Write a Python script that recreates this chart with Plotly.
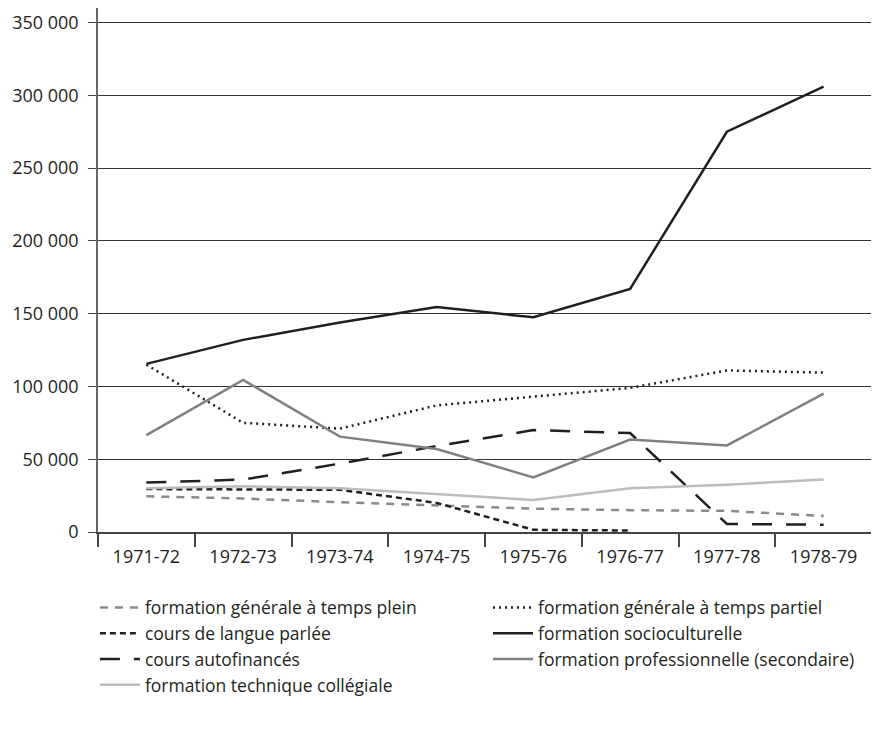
import plotly.graph_objects as go

years = ["1971-72", "1972-73", "1973-74", "1974-75", "1975-76", "1976-77", "1977-78", "1978-79"]

fg_temps_plein = [24500, 23000, 20500, 18500, 16000, 15000, 14500, 11000]
fg_temps_partiel = [115000, 75000, 71000, 87000, 93000, 99000, 111000, 109500]
langue_parlee = [29500, 29500, 29000, 20000, 1500, 1000, None, None]
socioculturelle = [115500, 132000, 144000, 154500, 147500, 167000, 275000, 306000]
autofinances = [34000, 36000, 47000, 59000, 70000, 68000, 5500, 5000]
professionnelle = [66500, 104500, 65500, 57000, 37500, 63500, 59500, 95000]
technique = [30000, 31500, 30000, 26000, 22000, 30000, 32500, 36000]

names = [
    "formation générale à temps plein",
    "formation générale à temps partiel",
    "cours de langue parlée",
    "formation socioculturelle",
    "cours autofinancés",
    "formation professionnelle (secondaire)",
    "formation technique collégiale",
]
series = [fg_temps_plein, fg_temps_partiel, langue_parlee, socioculturelle,
          autofinances, professionnelle, technique]
styles = [
    dict(color="#8a8a8a", width=2.5, dash="8px,7px"),
    dict(color="#231f20", width=2.5, dash="2px,4px"),
    dict(color="#231f20", width=2.5, dash="6px,4px"),
    dict(color="#231f20", width=2.5, dash="solid"),
    dict(color="#231f20", width=2.5, dash="20px,14px"),
    dict(color="#808080", width=2.5, dash="solid"),
    dict(color="#bdbdbd", width=2.5, dash="solid"),
]

fig = go.Figure()
for n, s, st in zip(names, series, styles):
    fig.add_trace(go.Scatter(x=years, y=s, name=n, mode="lines", line=st,
                             connectgaps=False))

font = "Open Sans"
fig.update_layout(
    width=871, height=729,
    margin=dict(l=90, r=7, t=0, b=205, autoexpand=False),
    plot_bgcolor="white", paper_bgcolor="white",
    separators=", ",
    font=dict(family=font, size=18, color="#231f20"),
    showlegend=True,
    legend=dict(
        orientation="h", x=-0.004, xanchor="left",
        y=-0.110, yanchor="top",
        entrywidth=0.455, entrywidthmode="fraction",
        font=dict(family=font, size=17.5, color="#231f20"),
        itemwidth=40,
    ),
)
fig.update_xaxes(
    type="category", range=[-0.5, 7.5],
    showline=True, linecolor="#444444", linewidth=1.5,
    ticks="outside", tickson="boundaries", ticklen=13, tickcolor="#444444", tickwidth=1.5,
    showgrid=False, ticklabelstandoff=8,
    tickfont=dict(size=18),
)
fig.update_yaxes(
    range=[0, 360000], dtick=50000, tick0=0, tickformat=",d",
    showline=True, linecolor="#666666", linewidth=1.5,
    ticks="outside", ticklen=8, tickcolor="#444444", tickwidth=1.2,
    showgrid=True, gridcolor="#333333", gridwidth=1.2,
    zeroline=False, ticklabelstandoff=6,
    tickfont=dict(size=18),
)

fig.write_html("out.html")
